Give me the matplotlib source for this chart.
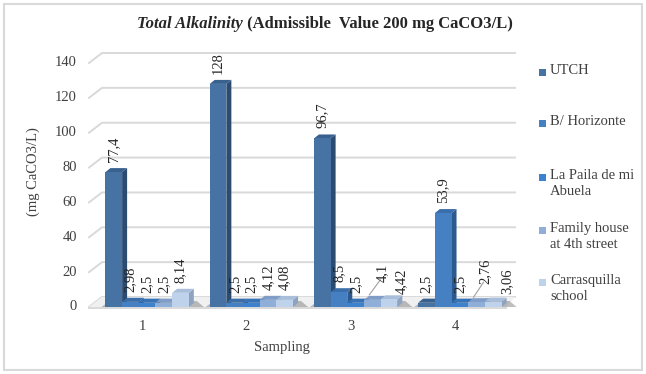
import matplotlib
matplotlib.use("Agg")
import matplotlib.pyplot as plt
from matplotlib.patches import Polygon, Rectangle
from matplotlib.lines import Line2D
from matplotlib.transforms import IdentityTransform
import numpy as np

# ---------------- data ----------------
samplings = ["1", "2", "3", "4"]
series_names = ["UTCH", "B/ Horizonte", "La Paila de mi\nAbuela",
                "Family house\nat 4th street", "Carrasquilla\nschool"]
utch = [77.4, 128, 96.7, 2.5]
b_horizonte = [2.98, 2.5, 8.5, 53.9]
la_paila = [2.5, 2.5, 2.5, 2.5]
family_house = [2.5, 4.12, 4.1, 2.76]
carrasquilla = [8.14, 4.08, 4.42, 3.06]
series_values = [utch, b_horizonte, la_paila, family_house, carrasquilla]
y_ticks = [0, 20, 40, 60, 80, 100, 120, 140]

# ---------------- style ----------------
front_cols = ['#4672A4', '#4480C2', '#3D82CE', '#8FAFD9', '#BFD2EC']
side_cols = ['#2C4B70', '#2D5A8E', '#2B5E9C', '#6F8BB0', '#8EA3BF']
top_cols = ['#38618F', '#3A6EAA', '#3672B6', '#7F9DC6', '#A9BEDA']
serif = 'Liberation Serif'
txt_col = '#404040'
W, H, DPI = 6.46, 3.74, 100
depth_dx, depth_dy = 5.0, 4.0   # pixel depth of 3-D bars

fig = plt.figure(figsize=(W, H), dpi=DPI)
fig.patch.set_facecolor('white')
ax = fig.add_axes([95 / 646, 1 - 307 / 374, (512 - 95) / 646, (307 - 63) / 374])
ax.set_xlim(0.5, 4.5)
ax.set_ylim(0, 140)
ax.axis('off')
ax.patch.set_alpha(0)

ident = IdentityTransform()


def add_poly(pts, **kw):
    p = Polygon(pts, closed=True, transform=ident, clip_on=False, edgecolor='none', **kw)
    ax.add_patch(p)


# back-wall gridlines with slanted left part
for v in y_ticks:
    x0, y0 = ax.transData.transform((0.5, v))
    x1, _ = ax.transData.transform((4.5, v))
    xs = [x0 - 6, x0 + 7, x1 + 3]
    ys = [y0, y0 + 10, y0 + 10]
    ax.add_line(Line2D(xs, ys, transform=ident, color='#D9D9D9', lw=1.4, zorder=0, clip_on=False))
    fig.text(x0 - 18, y0, str(v), transform=ident, ha='right', va='center',
             fontsize=10.5, family=serif, color=txt_col)

# floor
fx0, fy0 = ax.transData.transform((0.5, 0))
fx1, _ = ax.transData.transform((4.5, 0))
add_poly([[fx0 - 6, fy0], [fx1 - 6, fy0], [fx1 + 3, fy0 + 10], [fx0 + 7, fy0 + 10]],
         facecolor='#F0F0F0', zorder=0.5)
ax.add_line(Line2D([fx0 - 6, fx1 - 6], [fy0 - 1, fy0 - 1], transform=ident,
                   color='#D9D9D9', lw=1.4, zorder=0.6, clip_on=False))

n = len(series_values)
bw = 0.16
offsets = (np.arange(n) - (n - 1) / 2) * bw
label_shift = {(2, 3): (10, 8), (2, 4): (12, -5), (3, 3): (9, 8), (3, 4): (14, -2)}

z = 2
for g in range(len(samplings)):
    # shadow on the floor behind the group
    gx0, gy = ax.transData.transform((g + 1 + offsets[0] - bw / 2, 0))
    gx1, _ = ax.transData.transform((g + 1 + offsets[-1] + bw / 2, 0))
    add_poly([[gx0 - 4, gy], [gx1 + depth_dx + 10, gy], [gx1 + depth_dx + 3, gy + depth_dy + 2],
              [gx0 + 4, gy + depth_dy + 2]], facecolor='#7F7F7F', alpha=0.5, zorder=1)
    for s in range(n):
        v = series_values[s][g]
        xc = g + 1 + offsets[s]
        (xl, yb) = ax.transData.transform((xc - bw / 2, 0))
        (xr, yt) = ax.transData.transform((xc + bw / 2, v))
        add_poly([[xr, yb], [xr, yt], [xr + depth_dx, yt + depth_dy], [xr + depth_dx, yb + depth_dy]],
                 facecolor=side_cols[s], zorder=z)
        add_poly([[xl, yt], [xr, yt], [xr + depth_dx, yt + depth_dy], [xl + depth_dx, yt + depth_dy]],
                 facecolor=top_cols[s], zorder=z)
        ax.bar(xc, v, width=bw, color=front_cols[s], edgecolor='none', zorder=z + 0.5)
        z += 1
        lab = f"{v:g}".replace('.', ',')
        dx, dy = label_shift.get((g, s), (0, 0))
        tx = (xl + xr) / 2 + dx
        ty = yt + depth_dy + 6 + dy
        fig.text(tx, ty, lab, transform=ident, rotation=90, ha='center', va='bottom',
                 fontsize=10.5, family=serif, color='#262626', zorder=50)
        if (g, s) in label_shift and dy > 0:
            fig.add_artist(Line2D([(xl + xr) / 2 - 3, tx - 2], [yt + depth_dy + 1, ty + 2],
                                  transform=ident, color='#A0A0A0', lw=0.8, zorder=49))

# x tick labels
for g, lab in enumerate(samplings):
    x, y = ax.transData.transform((g + 1, 0))
    fig.text(x - 5, y - 20, lab, transform=ident, ha='center', va='center',
             fontsize=10.5, family=serif, color=txt_col)

fig.text(282 / 646, 1 - 348 / 374, "Sampling", ha='center', va='center',
         fontsize=10.5, family=serif, color=txt_col)
fig.text(33 / 646, 1 - 172 / 374, "(mg CaCO3/L)", ha='center', va='center', rotation=90,
         fontsize=10.5, family=serif, color=txt_col)

# title (italic part + regular bold part)
r = fig.canvas.get_renderer()
t1 = fig.text(0, 1 - 24 / 374, "Total Alkalinity", ha='left', va='center', fontsize=12,
              family=serif, style='italic', weight='bold', color='#262626')
t2 = fig.text(0, 1 - 24 / 374, " (Admissible  Value 200 mg CaCO3/L)", ha='left', va='center',
              fontsize=12, family=serif, weight='bold', color='#262626')
w1 = t1.get_window_extent(r).width
w2 = t2.get_window_extent(r).width
start = 325 - (w1 + w2) / 2
t1.set_x(start / 646)
t2.set_x((start + w1) / 646)

# legend
leg_y = [72, 123, 177, 230, 282]
for s in range(n):
    y = leg_y[s]
    fig.add_artist(Rectangle(((542 - 3.5) / 646, 1 - (y + 3.5) / 374), 7 / 646, 7 / 374,
                             transform=fig.transFigure, facecolor=front_cols[s], edgecolor='none'))
    fig.text(550 / 646, 1 - (y - 8) / 374, series_names[s], ha='left', va='top',
             fontsize=10.5, family=serif, color=txt_col, linespacing=1.3)

# figure border
fig.add_artist(Rectangle((4 / 646, 4 / 374), 638 / 646, 366 / 374, transform=fig.transFigure,
                         facecolor='none', edgecolor='#D9D9D9', lw=1.5))

fig.savefig('out.png', dpi=DPI)
